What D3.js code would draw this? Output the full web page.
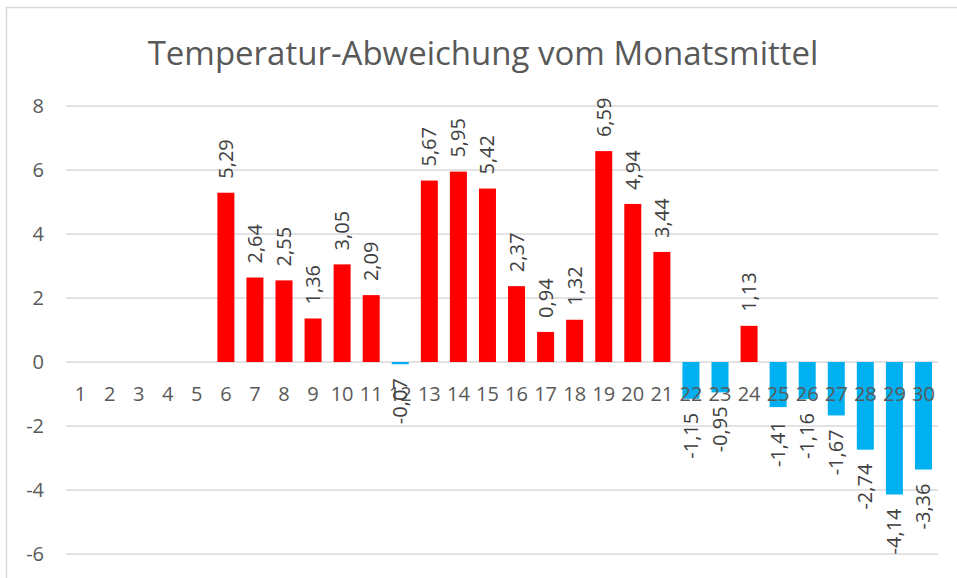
<html>
<head>
<meta charset="utf-8">
<script src="https://d3js.org/d3.v7.min.js"></script>
<style>
  body { margin: 0; background: #fff; }
  text { font-family: "Open Sans", sans-serif; }
</style>
</head>
<body>
<svg id="chart" width="957" height="578"></svg>
<script>
// days of the month (x categories)
var days = d3.range(1, 31)
// deviation from monthly mean, null where no value
var values = [null, null, null, null, null, 5.29, 2.64, 2.55, 1.36, 3.05,
              2.09, -0.07, 5.67, 5.95, 5.42, 2.37, 0.94, 1.32, 6.59, 4.94,
              3.44, -1.15, -0.95, 1.13, -1.41, -1.16, -1.67, -2.74, -4.14, -3.36]
var yTicks = [-6, -4, -2, 0, 2, 4, 6, 8]
var title = "Temperatur-Abweichung vom Monatsmittel"

var data = days.map(function(d, i) { return {day: d, value: values[i]} })

var svg = d3.select("#chart")

// chart area border
svg.append("rect")
    .attr("x", 6.5).attr("y", 7.5)
    .attr("width", 1000).attr("height", 1000)
    .attr("fill", "none").attr("stroke", "#d9d9d9").attr("stroke-width", 1.5)

svg.append("text")
    .attr("x", 483).attr("y", 65)
    .attr("text-anchor", "middle")
    .attr("font-size", 33)
    .attr("fill", "#595959")
    .text(title)

var x = d3.scaleBand().domain(days).range([66, 938]).paddingInner(0.415).paddingOuter(0.2075)
var y = d3.scaleLinear().domain([-6, 8]).range([554, 106])

// gridlines
svg.append("g")
    .selectAll("line")
    .data(yTicks)
    .enter()
    .append("line")
        .attr("x1", 66).attr("x2", 938)
        .attr("y1", function(d) { return y(d) }).attr("y2", function(d) { return y(d) })
        .attr("stroke", "#d9d9d9").attr("stroke-width", 1.5)

// y axis labels
var yAxis = d3.axisLeft(y).tickValues(yTicks).tickSize(0).tickPadding(0).tickFormat(function(d) { return String(d) })
var ya = svg.append("g").attr("transform", "translate(44,0)").call(yAxis)
ya.select(".domain").remove()
ya.selectAll("text").attr("font-size", 20).attr("fill", "#595959").attr("font-family", "Open Sans")

var bars = data.filter(function(d) { return d.value != null })

svg.append("g")
    .selectAll("rect")
    .data(bars)
    .enter()
    .append("rect")
        .attr("x", function(d) { return x(d.day) })
        .attr("width", x.bandwidth())
        .attr("y", function(d) { return y(Math.max(0, d.value)) })
        .attr("height", function(d) { return Math.abs(y(d.value) - y(0)) })
        .attr("fill", function(d) { return d.value >= 0 ? "#ff0000" : "#00b0f0" })

// category labels (drawn after bars, like Excel)
svg.append("g")
    .selectAll("text")
    .data(days)
    .enter()
    .append("text")
        .attr("x", function(d) { return x(d) + x.bandwidth() / 2 })
        .attr("y", y(0) + 39)
        .attr("text-anchor", "middle")
        .attr("font-size", 20)
        .attr("fill", "#595959")
        .text(function(d) { return d })

// value labels, rotated
var fmt = function(v) { return v.toFixed(2).replace(".", ",") }
svg.append("g")
    .selectAll("text")
    .data(bars)
    .enter()
    .append("text")
        .attr("transform", function(d) {
            var cx = x(d.day) + x.bandwidth() / 2
            var ty = d.value >= 0 ? y(d.value) - 14 : y(d.value) + 14
            return "translate(" + cx + "," + ty + ") rotate(-90)"
        })
        .attr("dy", "0.35em")
        .attr("text-anchor", function(d) { return d.value >= 0 ? "start" : "end" })
        .attr("font-size", 20)
        .attr("fill", "#404040")
        .text(function(d) { return fmt(d.value) })
</script>
</body>
</html>
